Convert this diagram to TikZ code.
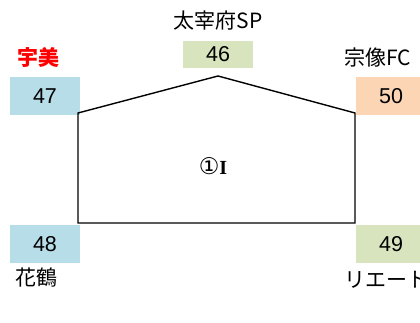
\documentclass[tikz,border=0pt]{standalone}
\usepackage{fontspec}
\setmainfont{Liberation Sans}
\newfontfamily\jp{Noto Sans CJK JP}
\newfontfamily\dv{DejaVu Sans}
\newfontfamily\serifb{Liberation Serif}
\definecolor{bluebox}{HTML}{B7DDE8}
\definecolor{greenbox}{HTML}{D7E4BD}
\definecolor{peachbox}{HTML}{FCD5B5}
\definecolor{redtxt}{HTML}{FF0000}
\begin{document}
\begin{tikzpicture}[x=1pt,y=1pt,
  numbox/.style={minimum width=70pt, inner sep=0pt, font=\fontsize{21.5}{21.5}\selectfont},
  lbl/.style={inner sep=0pt, font=\jp\fontsize{21}{21}\selectfont},
  outline/.style={line width=1.4pt, black}]
\useasboundingbox (0,0) rectangle (420,323);
\clip (0,0) rectangle (420,323);
% boxes
\node[numbox, fill=bluebox, minimum height=38pt] (b47) at (45,227) {47};
\node[numbox, fill=greenbox, minimum height=27pt] (b46) at (218,268.5) {46};
\node[numbox, fill=peachbox, minimum height=38pt] (b50) at (391,227) {50};
\node[numbox, fill=bluebox, minimum height=38pt] (b48) at (45,79) {48};
\node[numbox, fill=greenbox, minimum height=38pt] (b49) at (391,79) {49};
% labels
\node[lbl, text=redtxt, font=\jp\bfseries\fontsize{21}{21}\selectfont] (l47) at (38,265) {宇美};
\node[lbl] (l46) at (218,302) {太宰府SP};
\node[lbl, anchor=west] (l50) at (344,265) {宗像FC};
\node[lbl, anchor=west] (l48) at (15,45) {花鶴};
\node[lbl, anchor=west] (l49) at (344,43) {リエート};
% pentagon
\coordinate (p1) at (78,210);
\coordinate (p2) at (218,247);
\coordinate (p3) at (355,210);
\coordinate (p4) at (355,100);
\coordinate (p5) at (78,100);
\draw[outline, line join=miter] (p1) -- (p2) -- (p3) -- (p4) -- (p5) -- cycle;
\node[inner sep=0pt] (c) at (213,157) {{\dv\fontsize{23}{23}\selectfont ①}{\serifb\bfseries\fontsize{20}{20}\selectfont I}};
\end{tikzpicture}
\end{document}
